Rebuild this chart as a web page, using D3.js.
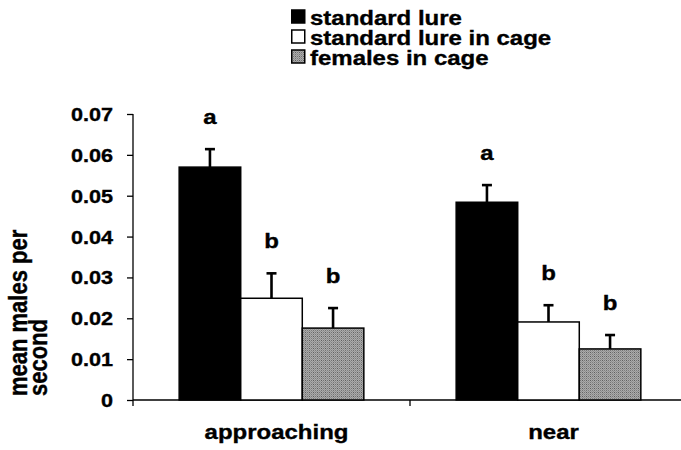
<!DOCTYPE html>
<html>
<head>
<meta charset="utf-8">
<script src="https://cdn.jsdelivr.net/npm/d3@7"></script>
<style>
  html, body { margin: 0; padding: 0; background: #fff; }
  svg text { font-family: "Liberation Sans", Arial, Helvetica, sans-serif; font-weight: bold; fill: #000; stroke: #000; stroke-width: 0.35px; }
</style>
</head>
<body>
<svg id="chart" width="681" height="450"></svg>
<script>
// Behaviour categories on the x axis
const categories = ["approaching", "near"];
// Lure treatments (legend order)
const series = ["standard lure", "standard lure in cage", "females in cage"];
// Mean males per second, one row per category, one column per treatment
const means = [
  [0.0570, 0.0249, 0.0176],
  [0.0484, 0.0191, 0.0125]
];
// Standard errors (drawn upward only)
const errors = [
  [0.0044, 0.0061, 0.0049],
  [0.0042, 0.0041, 0.0034]
];
// Significance letters above each bar
const letters = [
  ["a", "b", "b"],
  ["a", "b", "b"]
];
// Y axis tick values
const yTicks = [0, 0.01, 0.02, 0.03, 0.04, 0.05, 0.06, 0.07];

const svg = d3.select("#chart");
const SX = 1.17; // horizontal stretch applied to the bold labels

// dithered mid-grey fill for the caged-females bars
const defs = svg.append("defs");
const pat = defs.append("pattern")
  .attr("id", "dither").attr("patternUnits", "userSpaceOnUse")
  .attr("width", 4).attr("height", 4);
pat.append("rect").attr("width", 4).attr("height", 4).attr("fill", "#ababab");
[[0,0,"#5e5e5e"],[2,0,"#747474"],[0,2,"#747474"],[1,1,"#8e8e8e"],[3,3,"#8e8e8e"],[2,2,"#7e7e7e"],[1,3,"#969696"],[3,1,"#969696"]]
  .forEach(([px, py, c]) => pat.append("rect").attr("x", px).attr("y", py)
    .attr("width", 1).attr("height", 1).attr("fill", c));

const fills = ["#000", "#fff", "url(#dither)"];

const plot = { left: 133, right: 687, top: 114, bottom: 400 };

const y = d3.scaleLinear().domain([0, 0.07]).range([plot.bottom, plot.top]);
const x0 = d3.scaleBand().domain(categories).range([plot.left, plot.right]).padding(0);
const x1 = d3.scaleBand().domain(series).range([0, x0.bandwidth()])
  .paddingInner(0).paddingOuter(0.75);

// horizontally stretched bold text
function stext(g, x, yy, str, size, anchor) {
  return g.append("text")
    .attr("transform", `translate(${x},${yy}) scale(${SX},1)`)
    .attr("text-anchor", anchor || "middle")
    .style("font-size", size + "px")
    .text(str);
}

// Y axis
const yAxis = svg.append("g")
  .attr("transform", `translate(${plot.left},0)`)
  .call(d3.axisLeft(y).tickValues(yTicks).tickSize(6));
yAxis.select(".domain").attr("stroke", "#000").attr("stroke-width", 1.3)
  .attr("d", `M0,${plot.top}V${plot.bottom + 6}`);
yAxis.selectAll(".tick line").attr("stroke", "#000").attr("stroke-width", 1.3);
yAxis.selectAll(".tick text").remove();
yAxis.selectAll(".tick").each(function(d) {
  d3.select(this).append("text")
    .attr("transform", `translate(-20,6.5) scale(${SX},1)`)
    .attr("text-anchor", "end")
    .style("font-size", "18.5px")
    .text(d === 0 ? "0" : d3.format(".2f")(d));
});

// X axis baseline with category boundary ticks
const xAxis = svg.append("g");
xAxis.append("line")
  .attr("x1", plot.left).attr("x2", plot.right)
  .attr("y1", y(0)).attr("y2", y(0))
  .attr("stroke", "#000").attr("stroke-width", 1.5);
xAxis.selectAll("line.bnd").data(categories.slice(1)).join("line")
  .attr("class", "bnd")
  .attr("x1", d => x0(d)).attr("x2", d => x0(d))
  .attr("y1", y(0)).attr("y2", y(0) + 6)
  .attr("stroke", "#000").attr("stroke-width", 1.3);
categories.forEach(c => {
  stext(svg, x0(c) + x0.bandwidth() / 2 + 5, 439, c, 20.5);
});

// Bars, error bars and letters
categories.forEach((c, ci) => {
  const g = svg.append("g").attr("transform", `translate(${x0(c)},0)`);
  series.forEach((s, si) => {
    const v = means[ci][si], e = errors[ci][si];
    const bx = x1(s), bw = x1.bandwidth(), cx = bx + bw / 2;
    g.append("line")
      .attr("x1", cx).attr("x2", cx)
      .attr("y1", y(v)).attr("y2", y(v + e))
      .attr("stroke", "#000").attr("stroke-width", 2.6);
    g.append("line")
      .attr("x1", cx - 5).attr("x2", cx + 5)
      .attr("y1", y(v + e)).attr("y2", y(v + e))
      .attr("stroke", "#000").attr("stroke-width", 2.6);
    g.append("rect")
      .attr("x", bx).attr("y", y(v))
      .attr("width", bw).attr("height", y(0) - y(v))
      .attr("fill", fills[si])
      .attr("stroke", "#000").attr("stroke-width", 1.5);
    stext(g, cx, y(v + e) - 25, letters[ci][si], 20.5);
  });
});

// Y axis title (two lines, rotated)
const titleLines = ["mean males per", "second"];
titleLines.forEach((t, i) => {
  svg.append("text")
    .attr("transform", `translate(${27 + i * 20},396) rotate(-90) scale(1,${SX})`)
    .attr("text-anchor", "start")
    .style("font-size", "22px")
    .text(t);
});

// Legend
const legend = svg.append("g").attr("transform", "translate(291,0)");
series.forEach((s, i) => {
  const cy = 17 + i * 20;
  legend.append("rect")
    .attr("x", 0.75).attr("y", cy - 7)
    .attr("width", 13).attr("height", 13)
    .attr("fill", fills[i]).attr("stroke", "#000").attr("stroke-width", 1.5);
  stext(legend, 19, cy + 7.5, s, 20.5, "start");
});
</script>
</body>
</html>
